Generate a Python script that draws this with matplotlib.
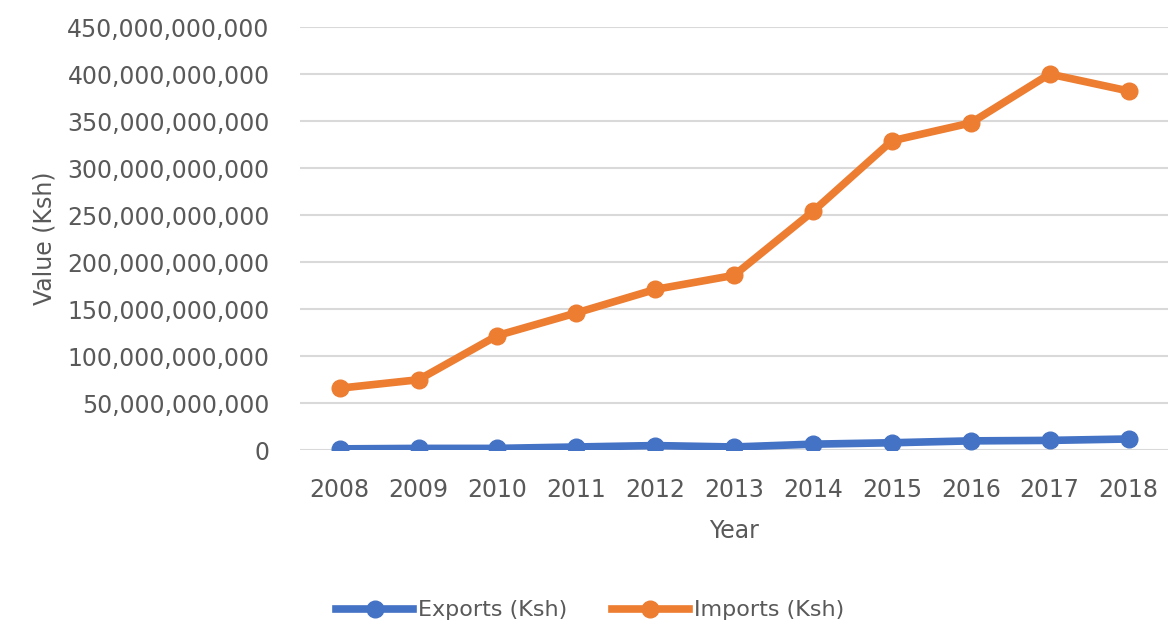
import matplotlib.pyplot as plt
from matplotlib.ticker import FuncFormatter

years = [2008, 2009, 2010, 2011, 2012, 2013, 2014, 2015, 2016, 2017, 2018]
exports = [1.5e9, 2e9, 2e9, 3.5e9, 5e9, 3.5e9, 6.5e9, 8e9, 10e9, 10.5e9, 12e9]
imports = [66e9, 75e9, 122e9, 146e9, 171e9, 186e9, 254e9, 329e9, 348e9, 400e9, 382e9]

grey = "#595959"
plt.rcParams["font.family"] = "DejaVu Sans"

fig = plt.figure(figsize=(11.68, 6.28), dpi=100)
ax = fig.add_axes([0.257, 0.283, 0.743, 0.674])

x = list(range(len(years)))
ax.plot(x, exports, color="#4472C4", lw=5.5, marker="o", ms=12, label="Exports (Ksh)", zorder=3)
ax.plot(x, imports, color="#ED7D31", lw=5.5, marker="o", ms=12, label="Imports (Ksh)", zorder=3)

ax.set_xlim(-0.5, len(years) - 0.5)
ax.set_ylim(0, 450e9)
ax.set_yticks([i * 50e9 for i in range(10)])
ax.yaxis.set_major_formatter(FuncFormatter(lambda v, p: f"{v:,.0f}"))
ax.set_xticks(x)
ax.set_xticklabels([str(y) for y in years])

ax.grid(axis="y", color="#d9d9d9", lw=1.5, zorder=0)
for s in ax.spines.values():
    s.set_visible(False)
ax.tick_params(length=0, colors=grey, labelsize=17)
ax.tick_params(axis="y", pad=22)
ax.tick_params(axis="x", pad=20)

ax.set_xlabel("Year", color=grey, fontsize=17, labelpad=12)
ax.set_ylabel("Value (Ksh)", color=grey, fontsize=17, labelpad=8)

fig.legend(loc="center", bbox_to_anchor=(0.505, 0.028), ncol=2, frameon=False,
           fontsize=16, labelcolor=grey, handlelength=3.5, handletextpad=0.2,
           columnspacing=2.0)

fig.savefig("out.png", dpi=100)
